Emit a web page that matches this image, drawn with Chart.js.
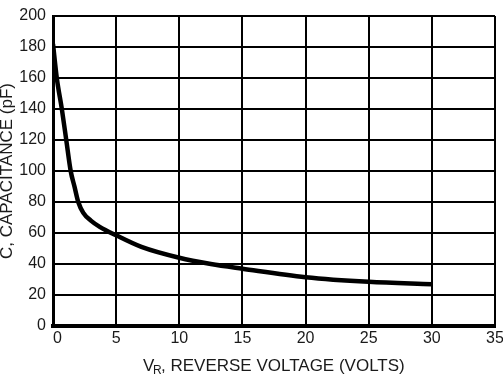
<!DOCTYPE html>
<html>
<head>
<meta charset="utf-8">
<script src="https://cdn.jsdelivr.net/npm/chart.js@4/dist/chart.umd.min.js"></script>
<style>
  html, body { margin: 0; padding: 0; background: #fff; overflow: hidden; }
  #wrap { position: relative; width: 503px; height: 374px; }
</style>
</head>
<body>
<div id="wrap"><canvas id="c" width="503" height="374"></canvas></div>
<script>
// Diode capacitance versus reverse voltage
const voltage     = [0, 0.3, 0.7, 1.05, 1.4, 1.7, 2.0, 2.4, 3.0, 3.7, 5, 7, 10, 12.5, 15, 20, 25, 30];
const capacitance = [182, 160, 140, 120, 100, 90, 80, 73, 68, 64, 58.5, 51, 44, 40, 37, 31.5, 28.5, 27];

const xTicks = [0, 5, 10, 15, 20, 25, 30, 35];
const yTicks = [0, 20, 40, 60, 80, 100, 120, 140, 160, 180, 200];

const FONT = "'Liberation Sans', Arial, Helvetica, sans-serif";
const TEXT = '#1a1a1a';

// x-axis title with a subscript R, drawn under the axis
const xTitlePlugin = {
  id: 'xTitle',
  afterDraw(chart) {
    const ctx = chart.ctx;
    ctx.save();
    ctx.fillStyle = TEXT;
    ctx.textBaseline = 'alphabetic';
    ctx.textAlign = 'left';
    let x = 143;
    const y = 371;
    ctx.font = '17px ' + FONT;
    ctx.fillText('V', x, y);
    ctx.font = '12px ' + FONT;
    ctx.fillText('R', x + 10, y + 3);
    ctx.font = '17px ' + FONT;
    ctx.fillText(', REVERSE VOLTAGE (VOLTS)', x + 18, y);
    ctx.restore();
  }
};

new Chart(document.getElementById('c'), {
  type: 'scatter',
  data: {
    datasets: [{
      data: voltage.map((v, i) => ({ x: v, y: capacitance[i] })),
      showLine: true,
      borderColor: '#000',
      borderWidth: 4.5,
      pointRadius: 0,
      pointHoverRadius: 0,
      cubicInterpolationMode: 'monotone',
      fill: false
    }]
  },
  options: {
    responsive: false,
    animation: false,
    events: [],
    layout: { padding: { top: 16, right: 8, left: 0, bottom: 0 } },
    plugins: { legend: { display: false }, tooltip: { enabled: false } },
    scales: {
      x: {
        type: 'linear',
        min: 0, max: 35,
        afterBuildTicks(scale) { scale.ticks = xTicks.map(v => ({ value: v })); },
        afterFit(scale) { scale.height = 48; scale.paddingLeft = 0; scale.paddingRight = 0; },
        grid: { color: '#000', lineWidth: 2, drawTicks: false },
        border: { color: '#000', width: 4 },
        ticks: {
          color: TEXT, padding: 3, maxRotation: 0, autoSkip: false,
          font: { family: FONT, size: 16 },
          // nudge the origin label clear of the y-axis "0"
          callback: v => (v === 0 ? '  0' : String(v))
        }
      },
      y: {
        type: 'linear',
        min: 0, max: 200,
        afterBuildTicks(scale) { scale.ticks = yTicks.map(v => ({ value: v })); },
        afterFit(scale) { scale.width = 53; scale.paddingTop = 0; scale.paddingBottom = 0; },
        grid: { color: '#000', lineWidth: 2, drawTicks: false },
        border: { color: '#000', width: 3 },
        ticks: {
          color: TEXT, padding: 7, autoSkip: false,
          font: { family: FONT, size: 16 }
        },
        title: {
          display: true,
          text: 'C, CAPACITANCE (pF)',
          color: TEXT,
          padding: 0,
          font: { family: FONT, size: 17, lineHeight: 0.9 }
        }
      }
    }
  },
  plugins: [xTitlePlugin]
});
</script>
</body>
</html>
